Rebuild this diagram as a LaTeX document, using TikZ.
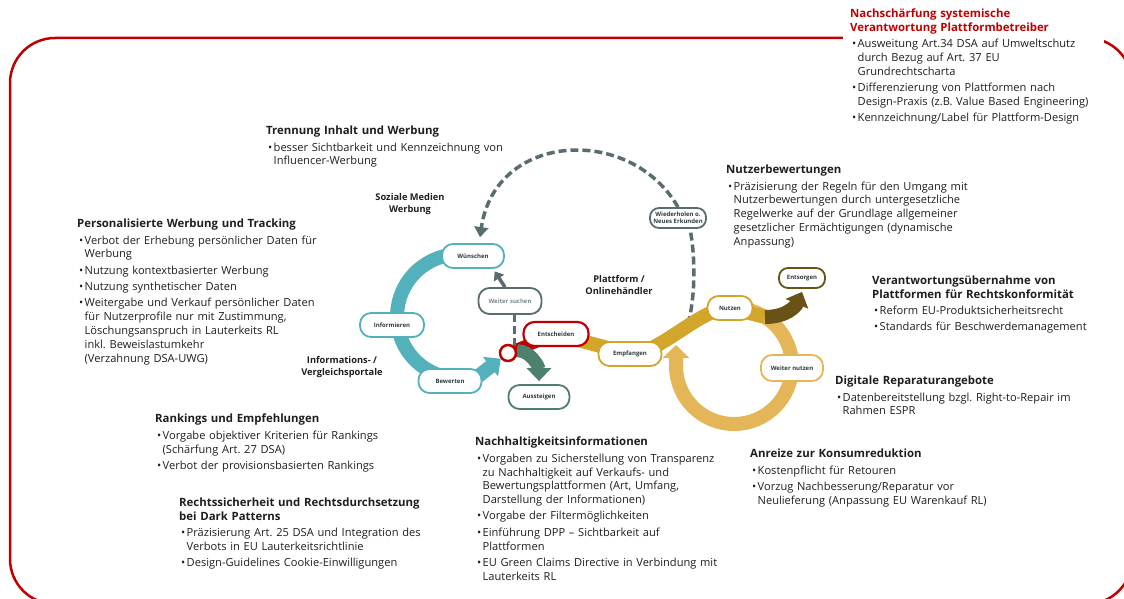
\documentclass[tikz,border=0pt]{standalone}
\usepackage{fontspec}
\setmainfont{Open Sans}
\usetikzlibrary{arrows.meta,backgrounds,calc}

\definecolor{rahmenrot}{HTML}{C00000}
\definecolor{tuerkis}{HTML}{52B1BB}
\definecolor{schiefer}{HTML}{5A6C70}
\definecolor{gruen}{HTML}{4E806E}
\definecolor{senf}{HTML}{D2A52B}
\definecolor{hellsenf}{HTML}{E4B658}
\definecolor{braun}{HTML}{685216}
\definecolor{schrift}{HTML}{1E1E1E}
\definecolor{knoten}{HTML}{2F3B3D}

\frenchspacing
\newcommand{\nl}{\newline}
\newcommand{\hd}[2][schrift]{{\noindent\color{#1}\fontsize{11.4}{13.5}\selectfont\bfseries #2\par}}
\newcommand{\itm}[1]{\par\vskip2.5pt{\hangindent=7.5pt\hangafter=1\noindent\hbox to 7.5pt{\hskip2pt\textbullet\hss}#1\par}}

\begin{document}
\begin{tikzpicture}[x=1pt,y=-1pt,
	stp/.style={draw=#1, fill=white, line width=1.8pt, rounded corners=11pt, minimum height=24pt, inner sep=1pt, align=center, text=knoten, font=\fontsize{6}{7}\selectfont\bfseries},
	band/.style={draw=#1, line width=14pt},
	spitze/.style={-{Triangle[width=#1,length=13pt]}},
	strich/.style={draw=schiefer, line width=3.5pt, dash pattern=on 8pt off 4pt},
	block/.style={anchor=north west, inner sep=0pt, align=left, text width=#1, text=schrift, font=\fontsize{11.1}{13.8}\selectfont},
	lbl/.style={inner sep=0pt, align=center, text=schrift, font=\fontsize{9.3}{12}\selectfont\bfseries}]
	\useasboundingbox (0,0) rectangle (1124,599);
	\clip (0,0) rectangle (1124,599);

	\node[stp=tuerkis, minimum width=62pt] (wuen) at (473,256) {Wünschen};
	\node[stp=tuerkis, minimum width=64pt] (info) at (392,325) {Informieren};
	\node[stp=tuerkis, minimum width=63pt] (bew) at (450,381) {Bewerten};
	\node[stp=schiefer, minimum width=63pt, minimum height=26pt, text=schiefer!80] (ws) at (510,301) {Weiter suchen};
	\node[stp=schiefer, minimum width=56pt, minimum height=20pt, rounded corners=9pt] (wh) at (678,218) {Wiederholen o.\\Neues Erkunden};
	\node[stp=rahmenrot, minimum width=65pt, line width=2.2pt] (ent) at (556,334) {Entscheiden};
	\node[circle, draw=rahmenrot, fill=white, line width=2.5pt, minimum size=16pt, inner sep=0pt] (kreis) at (508,353) {};
	\node[stp=gruen, minimum width=61pt] (aus) at (539,397) {Aussteigen};
	\node[stp=senf, minimum width=63pt] (emp) at (630,354) {Empfangen};
	\node[stp=senf, minimum width=45pt] (nutz) at (730,308) {Nutzen};
	\node[stp=hellsenf, minimum width=62pt, minimum height=26pt] (wn) at (792,368) {Weiter nutzen};
	\node[stp=braun, minimum width=46pt, minimum height=20pt, rounded corners=9pt] (ents) at (802,278) {Entsorgen};
	\coordinate (dstart) at (688,324);
	\coordinate (bst) at (765,317);

	\node[lbl] (sozial) at (410,204) {Soziale Medien\\Werbung};
	\node[lbl] (portale) at (342,367) {Informations- /\\Vergleichsportale};
	\node[lbl] (plattf) at (619,285) {Plattform /\\Onlinehändler};

	\node[block=270pt] (nachsch) at (850,9) {\hd[rahmenrot]{Nachschärfung systemische\nl Verantwortung Plattformbetreiber}
		\itm{Ausweitung Art.34 DSA auf Umweltschutz\nl durch Bezug auf Art. 37 EU\nl Grundrechtscharta}
		\itm{Differenzierung von Plattformen nach\nl Design-Praxis (z.B. Value Based Engineering)}
		\itm{Kennzeichnung/Label für Plattform-Design}};
	\node[block=300pt] (trenn) at (266,126) {\hd{Trennung Inhalt und Werbung}
		\itm{besser Sichtbarkeit und Kennzeichnung von\nl Influencer-Werbung}};
	\node[block=300pt] (perso) at (77,219) {\hd{Personalisierte Werbung und Tracking}
		\itm{Verbot der Erhebung persönlicher Daten für\nl Werbung}
		\itm{Nutzung kontextbasierter Werbung}
		\itm{Nutzung synthetischer Daten}
		\itm{Weitergabe und Verkauf persönlicher Daten\nl für Nutzerprofile nur mit Zustimmung,\nl Löschungsanspruch in Lauterkeits RL\nl inkl. Beweislastumkehr\nl (Verzahnung DSA-UWG)}};
	\node[block=300pt] (rank) at (155,414) {\hd{Rankings und Empfehlungen}
		\itm{Vorgabe objektiver Kriterien für Rankings\nl (Schärfung Art. 27 DSA)}
		\itm{Verbot der provisionsbasierten Rankings}};
	\node[block=300pt] (recht) at (179,498) {\hd{Rechtssicherheit und Rechtsdurchsetzung\nl bei Dark Patterns}
		\itm{Präzisierung Art. 25 DSA und Integration des\nl Verbots in EU Lauterkeitsrichtlinie}
		\itm{Design-Guidelines Cookie-Einwilligungen}};
	\node[block=300pt] (nachh) at (475,437) {\hd{Nachhaltigkeitsinformationen}
		\itm{Vorgaben zu Sicherstellung von Transparenz\nl zu Nachhaltigkeit auf Verkaufs- und\nl Bewertungsplattformen (Art, Umfang,\nl Darstellung der Informationen)}
		\itm{Vorgabe der Filtermöglichkeiten}
		\itm{Einführung DPP – Sichtbarkeit auf\nl Plattformen}
		\itm{EU Green Claims Directive in Verbindung mit\nl Lauterkeits RL}};
	\node[block=300pt] (anreiz) at (750,449) {\hd{Anreize zur Konsumreduktion}
		\itm{Kostenpflicht für Retouren}
		\itm{Vorzug Nachbesserung/Reparatur vor\nl Neulieferung (Anpassung EU Warenkauf RL)}};
	\node[block=300pt] (nutzbew) at (726,165) {\hd{Nutzerbewertungen}
		\itm{Präzisierung der Regeln für den Umgang mit\nl Nutzerbewertungen durch untergesetzliche\nl Regelwerke auf der Grundlage allgemeiner\nl gesetzlicher Ermächtigungen (dynamische\nl Anpassung)}};
	\node[block=260pt] (verant) at (872,276) {\hd{Verantwortungsübernahme von\nl Plattformen für Rechtskonformität}
		\itm{Reform EU-Produktsicherheitsrecht}
		\itm{Standards für Beschwerdemanagement}};
	\node[block=290pt] (digi) at (835,376) {\hd{Digitale Reparaturangebote}
		\itm{Datenbereitstellung bzgl. Right-to-Repair im\nl Rahmen ESPR}};

	\begin{pgfonlayer}{background}
	\draw[rahmenrot, line width=2.5pt, rounded corners=45pt] (10,38) rectangle (1132,604);
	\fill[white] (843,30) rectangle (1104,46);
	\draw[band=tuerkis, line join=round, spitze=24pt] (wuen.center) arc[start angle=283, end angle=100, radius=62] -- ([xshift=22pt]bew.center) -- (kreis);
	\draw[band=rahmenrot, line width=12pt] (kreis.center) -- (ent.center);
	\draw[strich] (kreis.north east) -- (kreis.north east |- ws.south);
	\draw[schiefer, line width=3.5pt, -{Triangle[width=12pt,length=8pt]}, shorten >=3pt] ([xshift=-5pt]ws.north) -- ([xshift=20pt]wuen.south);
	\draw[strich, -{Triangle[width=14pt,length=10pt]}] (wh.north) .. controls +(-48,-83) and +(15,-105) .. ([xshift=7pt,yshift=6pt]wuen.north);
	\draw[strich] (dstart) .. controls +(8,-30) and +(5,25) .. ([xshift=12pt]wh.south);
	\draw[band=hellsenf, spitze=26pt] ([xshift=4pt]nutz.center) arc[start angle=-90, end angle=180, radius=58] -- ++(0,-21);
	\draw[band=senf] (ent.center) -- (emp.center) .. controls +(30,0) and +(-30,0) .. (nutz.center) -- (bst);
	\draw[band=braun, spitze=24pt] (bst) .. controls +(22,0) and +(-6,14) .. ([yshift=-3pt]ents.south);
	\draw[band=gruen, line width=13pt, spitze=24pt] (kreis.15) .. controls +(14,0) and +(0,-14) .. ([yshift=3pt]aus.north);
	\end{pgfonlayer}
\end{tikzpicture}
\end{document}
